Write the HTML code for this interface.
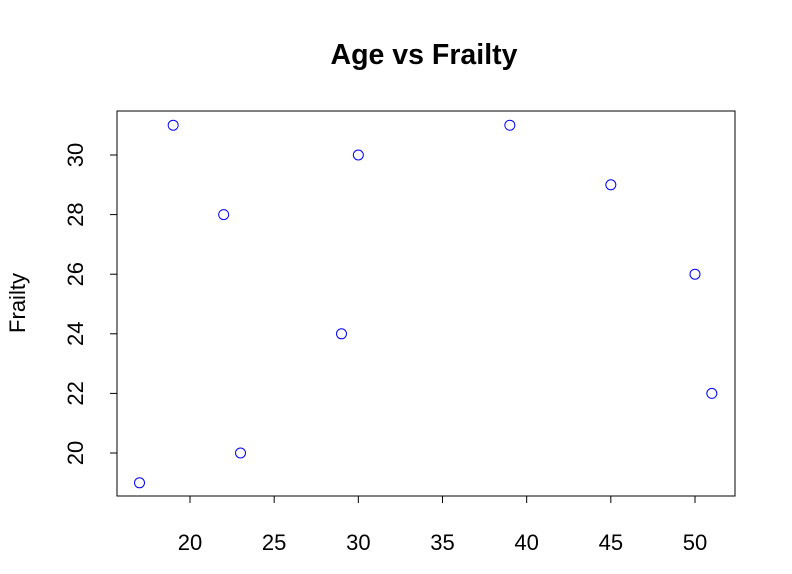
<!DOCTYPE html>
<html><head><meta charset="utf-8"><style>
html,body{margin:0;padding:0;background:#fff;}
svg{display:block;font-family:"Liberation Sans",Arial,sans-serif;}
</style></head><body>
<svg id="chart" width="792" height="574" viewBox="0 0 792 574">
<text x="424" y="64" text-anchor="middle" font-size="28.5" font-weight="bold">Age vs Frailty</text>
<rect x="117" y="111" width="618" height="385" fill="none" stroke="#000" stroke-width="1"/>
<text transform="translate(25,303) rotate(-90)" text-anchor="middle" font-size="22">Frailty</text>
<g id="xaxis"></g>
<g id="yaxis"></g>
<g id="points"></g>
</svg>
<script>
const ages = [17, 19, 22, 23, 29, 30, 39, 45, 50, 51];
const frailty = [19, 31, 28, 20, 24, 30, 31, 29, 26, 22];
const xTicks = [20, 25, 30, 35, 40, 45, 50];
const yTicks = [20, 22, 24, 26, 28, 30];
const NS = "http://www.w3.org/2000/svg";
function xs(v){ return 190 + (v - 20) * (505 / 30); }
function ys(v){ return 453 - (v - 20) * 29.8; }
function mk(tag, attrs, parent){ const e=document.createElementNS(NS,tag); for(const k in attrs) e.setAttribute(k,attrs[k]); parent.appendChild(e); return e; }
const xa=document.getElementById('xaxis'), ya=document.getElementById('yaxis'), pg=document.getElementById('points');
mk('line',{x1:xs(20),x2:xs(50),y1:496,y2:496,stroke:'#000'},xa);
xTicks.forEach(t=>{
  const l=mk('line',{x1:xs(t),x2:xs(t),y1:496,y2:503,stroke:'#000'},xa);
  
  
  const tx=mk('text',{x:xs(t),y:550,'text-anchor':'middle','font-size':22},xa);
  tx.textContent=t;
  
  
});
mk('line',{x1:117,x2:117,y1:ys(20),y2:ys(30),stroke:'#000'},ya);
yTicks.forEach(t=>{
  const l=mk('line',{x1:110,x2:117,y1:ys(t),y2:ys(t),stroke:'#000'},ya);
  
  
  const tx=mk('text',{transform:`translate(83,${ys(t)}) rotate(-90)`,'text-anchor':'middle','font-size':22},ya);
  tx.textContent=t;
  
  
});
ages.forEach((a,i)=>{
  const c=mk('circle',{cx:xs(a),cy:ys(frailty[i]),r:5,fill:'none',stroke:'#0000ff','stroke-width':1},pg);
  
  
});
</script>
</body></html>
